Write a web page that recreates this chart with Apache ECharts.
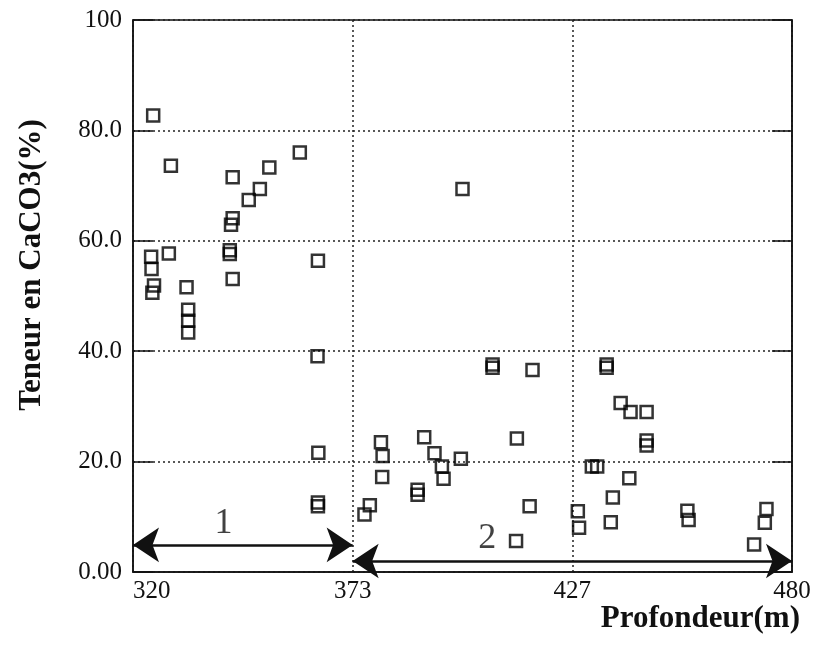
<!DOCTYPE html>
<html>
<head>
<meta charset="utf-8" />
<title>Teneur en CaCO3</title>
<script src="https://cdn.jsdelivr.net/npm/echarts@6/dist/echarts.min.js"></script>
<style>
  html, body { margin: 0; padding: 0; background: #fff; }
  #chart { width: 819px; height: 656px; }
</style>
</head>
<body>
<div id="chart"></div>
<script>
// profondeur (m)
var depth = [
  324.9, 329.2, 344.2, 353.1, 360.5, 350.8, 348.1, 344.2, 343.8, 343.5,
  343.5, 328.7, 324.4, 324.5, 325.1, 324.7, 333.0, 344.2, 364.9, 333.4,
  333.4, 333.4, 364.8, 365.0, 364.9, 364.9,
  400.0, 407.3, 407.3, 417.0, 380.2, 380.6, 380.5, 390.7, 393.2, 395.0,
  395.4, 399.6, 389.1, 389.1, 377.5, 376.2, 413.2, 416.3, 413.0, 428.0,
  428.3, 435.0, 435.0, 438.4, 440.8, 444.7, 444.7, 444.7, 431.4, 432.7,
  440.5, 436.5, 436.0, 454.6, 454.9, 473.8, 473.4, 470.8
];
// teneur en CaCO3 (%)
var caco3 = [
  82.7, 73.6, 71.5, 73.3, 76.0, 69.4, 67.4, 64.1, 62.9, 58.3,
  57.6, 57.7, 57.1, 54.9, 51.9, 50.6, 51.6, 53.1, 56.4, 47.5,
  45.5, 43.4, 39.1, 21.6, 12.6, 11.9,
  69.4, 37.6, 37.0, 36.6, 23.5, 21.0, 17.2, 24.4, 21.5, 19.1,
  16.9, 20.5, 14.9, 14.0, 12.1, 10.4, 24.2, 11.9, 5.6, 11.0,
  8.0, 37.6, 37.0, 30.6, 29.0, 29.0, 23.8, 22.9, 19.1, 19.1,
  17.0, 13.5, 9.0, 11.1, 9.4, 11.4, 8.9, 5.0
];
// zones (intervalle de profondeur, niveau de la flèche, position de l'étiquette)
var zoneNames = ['1', '2'];
var zoneFrom = [320, 373.33];
var zoneTo = [373.33, 480];
var zoneLevel = [4.9, 2.0];
var zoneLabelX = [342, 406];
var zoneLabelY = [8.8, 6.0];

var points = depth.map(function (d, i) { return [d, caco3[i]]; });

var serif = '"Liberation Serif", "DejaVu Serif", serif';
var dotted = { color: '#222', width: 1.5, type: [2, 3] };
var chart = echarts.init(document.getElementById('chart'));

chart.setOption({
  animation: false,
  backgroundColor: '#fff',
  grid: {
    left: 133, right: 27, top: 20, bottom: 84,
    containLabel: false,
    outerBoundsMode: 'none',
    show: true, borderColor: '#111', borderWidth: 1.5
  },
  xAxis: {
    type: 'value',
    min: 320, max: 480, interval: 160 / 3,
    name: 'Profondeur(m)',
    nameLocation: 'end',
    nameGap: 8,
    nameMoveOverlap: false,
    nameTextStyle: {
      fontFamily: serif, fontWeight: 'bold', fontSize: 31, color: '#111',
      align: 'right', verticalAlign: 'top', padding: [31, 0, 0, 0]
    },
    axisLine: { lineStyle: { color: '#111', width: 1.5 } },
    axisTick: { show: false },
    axisLabel: {
      fontFamily: serif, fontSize: 25, color: '#111', margin: 7,
      alignMinLabel: 'left',
      formatter: function (v) { return String(Math.round(v)); }
    },
    splitLine: { show: true, lineStyle: dotted }
  },
  yAxis: [
    {
      type: 'value',
      min: 0, max: 100, interval: 20,
      name: 'Teneur en CaCO3(%)',
      nameLocation: 'middle',
      nameGap: 86,
      nameTextStyle: {
        fontFamily: serif, fontWeight: 'bold', fontSize: 31, color: '#111',
        padding: [0, 0, 0, 62]
      },
      axisLine: { lineStyle: { color: '#111', width: 1.5 } },
      axisTick: { show: true, inside: true, length: 20, lineStyle: { color: '#111', width: 1.5 } },
      axisLabel: {
        fontFamily: serif, fontSize: 25, color: '#111', margin: 11,
        formatter: function (v) {
          if (v === 100) return '100';
          if (v === 0) return '0.00';
          return v.toFixed(1);
        }
      },
      splitLine: { show: true, lineStyle: dotted }
    },
    {
      type: 'value',
      position: 'right',
      min: 0, max: 100, interval: 20,
      axisLine: { show: true, lineStyle: { color: '#111', width: 1.5 } },
      axisTick: { show: true, inside: true, length: 20, lineStyle: { color: '#111', width: 1.5 } },
      axisLabel: { show: false },
      splitLine: { show: false }
    }
  ],
  series: [
    {
      type: 'scatter',
      data: points,
      symbol: 'rect',
      symbolSize: 12,
      itemStyle: { color: 'rgba(255,255,255,0)', borderColor: '#000', borderWidth: 2.5 },
      z: 3
    },
    {
      type: 'scatter',
      data: zoneNames.map(function (n, i) { return [zoneLabelX[i], zoneLabelY[i], n]; }),
      symbolSize: 0,
      silent: true,
      label: {
        show: true, position: 'inside',
        fontFamily: serif, fontSize: 36, color: '#111',
        formatter: function (p) { return p.value[2]; }
      },
      markLine: {
        silent: true,
        symbol: ['arrow', 'arrow'],
        symbolSize: [26, 26],
        label: { show: false },
        lineStyle: { color: '#111', width: 2.5, type: 'solid' },
        data: zoneNames.map(function (n, i) {
          return [
            { coord: [zoneFrom[i], zoneLevel[i]] },
            { coord: [zoneTo[i], zoneLevel[i]] }
          ];
        })
      }
    }
  ]
});
</script>
</body>
</html>
